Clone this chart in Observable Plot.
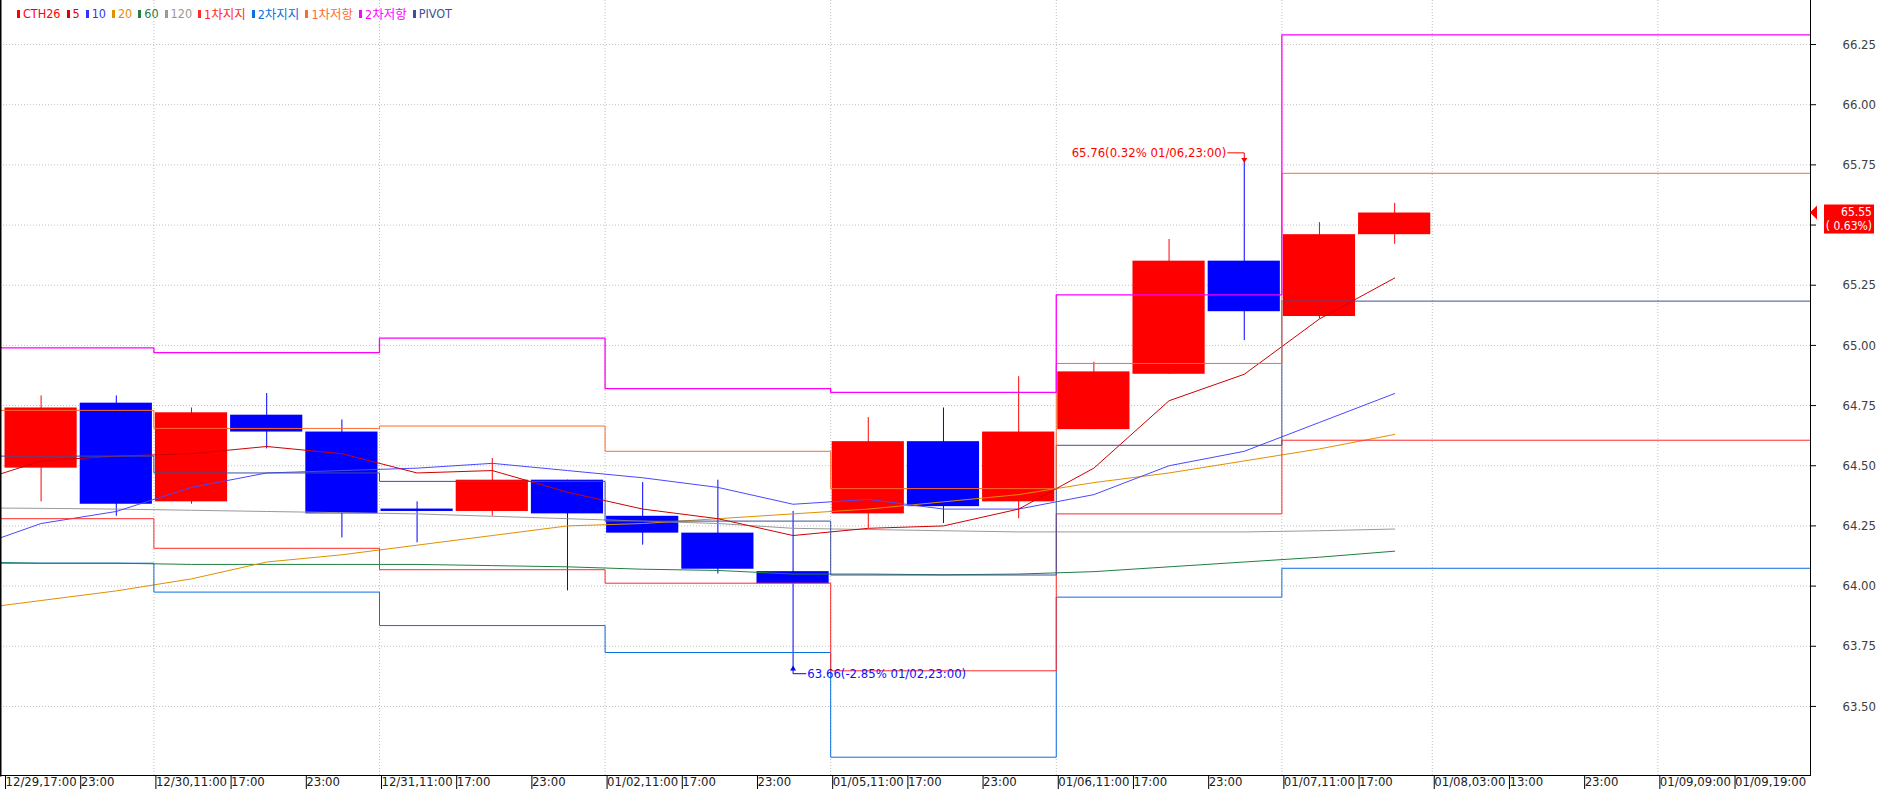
<!DOCTYPE html>
<html>
<head>
<meta charset="utf-8">
<script src="https://cdn.jsdelivr.net/npm/d3@7"></script>
<script src="https://cdn.jsdelivr.net/npm/@observablehq/plot@0.6"></script>
<style>
  body { margin: 0; background: #fff; }
  #wrap { position: relative; width: 1877px; height: 793px; overflow: hidden; }
  #legend { position: absolute; left: 17px; top: 4px; display: flex; align-items: center;
            font: 12.5px "Liberation Sans Narrow", "DejaVu Sans Condensed", "Noto Sans CJK KR", sans-serif; }
  #legend .it { display: flex; align-items: center; margin-right: 6px; }
  #legend .mk { display: inline-block; width: 3px; height: 8px; margin-right: 3px; }
</style>
</head>
<body>
<div id="wrap"><div id="legend"></div></div>
<script>
// ---------- data ----------
const slotLabels = ["12/29,17:00","23:00","12/30,11:00","17:00","23:00","12/31,11:00","17:00","23:00",
  "01/02,11:00","17:00","23:00","01/05,11:00","17:00","23:00","01/06,11:00","17:00","23:00",
  "01/07,11:00","17:00","01/08,03:00","13:00","23:00","01/09,09:00","01/09,19:00"];

const opens  = [64.49,64.76,64.35,64.71,64.64,64.32,64.31,64.44,64.29,64.22,64.06,64.30,64.60,64.35,64.65,64.88,65.35,65.12,65.46];
const highs  = [64.79,64.79,64.74,64.80,64.69,64.35,64.53,64.44,64.43,64.44,64.31,64.70,64.74,64.87,64.93,65.44,65.76,65.51,65.59];
const lows   = [64.35,64.29,64.34,64.57,64.20,64.18,64.29,63.98,64.17,64.05,63.66,64.24,64.26,64.28,64.65,64.88,65.02,65.11,65.42];
const closes = [64.74,64.34,64.72,64.64,64.30,64.31,64.44,64.30,64.22,64.07,64.01,64.60,64.33,64.64,64.89,65.35,65.14,65.46,65.55];

// moving averages (first value belongs to the bar before the visible window)
const maIdx = [-1,0,1,2,3,4,5,6,7,8,9,10,11,12,13,14,15,16,17,18];
const ma5   = [64.42,64.52,64.54,64.55,64.58,64.55,64.47,64.48,64.39,64.32,64.28,64.21,64.24,64.25,64.32,64.49,64.77,64.88,65.11,65.28];
const ma10  = [64.15,64.26,64.31,64.41,64.47,64.48,64.49,64.51,64.48,64.45,64.41,64.34,64.36,64.32,64.32,64.38,64.50,64.56,64.68,64.80];
const ma20  = [63.90,63.94,63.98,64.03,64.10,64.13,64.17,64.21,64.25,64.26,64.28,64.30,64.32,64.35,64.38,64.43,64.47,64.52,64.57,64.63];
const ma60  = [64.10,64.095,64.095,64.09,64.09,64.09,64.09,64.085,64.08,64.07,64.065,64.05,64.05,64.047,64.05,64.06,64.08,64.10,64.12,64.145];
const ma120 = [64.325,64.323,64.32,64.315,64.31,64.305,64.30,64.29,64.28,64.27,64.26,64.24,64.235,64.23,64.225,64.225,64.225,64.225,64.23,64.237];

// daily pivot levels (step at first slot of each day)
const dayStart = [-1,2,5,8,11,14,17];
const r2    = [64.99,64.97,65.03,64.82,64.805,65.21,66.29];
const r1    = [64.73,64.655,64.665,64.56,64.405,64.925,65.715];
const pivot = [64.54,64.47,64.435,64.27,64.046,64.585,65.184];
const s1    = [64.28,64.157,64.068,64.012,63.648,64.30,64.606];
const s2    = [64.095,63.975,63.836,63.724,63.289,63.954,64.074];

const gridSlots = [2,5,8,11,14,17,19,22];
const yTicks = [63.5,63.75,64.0,64.25,64.5,64.75,65.0,65.25,65.5,65.75,66.0,66.25];

const lastPrice = 65.55, lastPct = "( 0.63%)";
const highNote = {i: 16, v: 65.76, text: "65.76(0.32% 01/06,23:00)"};
const lowNote  = {i: 10, v: 63.66, text: "63.66(-2.85% 01/02,23:00)"};

const legendItems = [
  ["CTH26","#ff0000"],["5","#e00000"],["10","#3333ff"],["20","#e09000"],["60","#1f8040"],["120","#999999"],
  ["1차지지","#ff2a2a"],["2차지지","#0a6fe0"],["1차저항","#ff6a30"],["2차저항","#ff00ff"],["PIVOT","#3d4f9a"]
];

// ---------- build ----------
const C = {up:"#ff0000", down:"#0000ff", ma5:"#d00000", ma10:"#4848ff", ma20:"#e09000", ma60:"#1f8040", ma120:"#999999",
           r2:"#ff00ff", r1:"#ff6a30", p:"#3d4f9a", s1:"#ff2a2a", s2:"#0a6fe0"};
const candles = opens.map((o,i) => ({i, o, h: highs[i], l: lows[i], c: closes[i], up: closes[i] >= o}));
const maRows = vals => vals.map((v,k) => ({x: maIdx[k], v}));
const stepRows = vals => [...vals.map((v,k) => ({x: dayStart[k] - 0.5, v})), {x: 24.5, v: vals[vals.length-1]}];
const font = '"Liberation Sans Narrow","DejaVu Sans Condensed",sans-serif';
// tick labels hidden behind the current-price tag (as in the reference)
const labelTicks = yTicks.filter(d => Math.abs(d - lastPrice) > 0.08);

const line = (vals, color, opts={}) => Plot.line(vals, {x:"x", y:"v", stroke: color, strokeWidth: 1, clip: true, ...opts});

const chart = Plot.plot({
  width: 1877, height: 793,
  marginLeft: 0, marginRight: 67, marginTop: 0, marginBottom: 18,
  x: {domain: [-0.54, 23.53], axis: null},
  y: {domain: [63.213, 66.433], axis: null},
  style: {fontFamily: font, fontSize: "13px", background: "transparent"},
  marks: [
    Plot.ruleY(yTicks, {stroke: "#c0c0c0", strokeDasharray: "1,2"}),
    Plot.ruleX(gridSlots, {x: d => d - 0.5, stroke: "#c0c0c0", strokeDasharray: "1,2"}),
    Plot.ruleX(candles, {x: "i", y1: "l", y2: "h", stroke: d => d.up ? C.up : C.down, strokeWidth: 1}),
    Plot.rect(candles, {x1: d => d.i - 0.48, x2: d => d.i + 0.48, y1: "o", y2: "c", fill: d => d.up ? C.up : C.down}),
    line(maRows(ma120), C.ma120),
    line(maRows(ma60), C.ma60),
    line(maRows(ma20), C.ma20),
    line(maRows(ma10), C.ma10),
    line(maRows(ma5), C.ma5),
    line(stepRows(s2), C.s2, {curve: "step-after"}),
    line(stepRows(s1), C.s1, {curve: "step-after"}),
    line(stepRows(pivot), C.p, {curve: "step-after"}),
    line(stepRows(r1), C.r1, {curve: "step-after"}),
    line(stepRows(r2), C.r2, {curve: "step-after", strokeWidth: 1.3}),
    // high annotation
    Plot.line([{x: highNote.i - 0.22, v: highNote.v + 0.04}, {x: highNote.i, v: highNote.v + 0.04}, {x: highNote.i, v: highNote.v + 0.012}],
      {x: "x", y: "v", stroke: "#ff0000", strokeWidth: 1}),
    Plot.dot([highNote], {x: "i", y: d => d.v + 0.012, symbol: "triangle", rotate: 180, r: 2.2, fill: "#ff0000", stroke: "none"}),
    Plot.text([highNote], {x: d => d.i - 0.24, y: d => d.v + 0.04, text: "text", textAnchor: "end", fill: "#ff0000", fontSize: 13}),
    // low annotation
    Plot.line([{x: lowNote.i, v: lowNote.v - 0.005}, {x: lowNote.i, v: lowNote.v - 0.024}, {x: lowNote.i + 0.17, v: lowNote.v - 0.024}],
      {x: "x", y: "v", stroke: "#0000ff", strokeWidth: 1}),
    Plot.dot([lowNote], {x: "i", y: d => d.v - 0.004, symbol: "triangle", r: 2.2, fill: "#0000ff", stroke: "none"}),
    Plot.text([lowNote], {x: d => d.i + 0.19, y: d => d.v - 0.024, text: "text", textAnchor: "start", fill: "#1010ff", fontSize: 13}),
    // axes
    Plot.axisY({anchor: "right", ticks: yTicks, text: null, tickSize: 5, stroke: "#000"}),
    Plot.axisY({anchor: "right", ticks: labelTicks, tickFormat: d => d.toFixed(2), tickSize: 0, tickPadding: 32,
                fill: "#404040", fontSize: 13}),
    Plot.axisX({anchor: "bottom", ticks: slotLabels.map((_, i) => i - 0.5), tickFormat: d => slotLabels[Math.round(d + 0.5)],
                tickSize: 14, tickPadding: -13, textAnchor: "start", dx: 2, fill: "#222", stroke: "#000", fontSize: 13}),
    Plot.frame({anchor: "bottom", stroke: "#000"}),
    Plot.frame({anchor: "right", stroke: "#000"}),
    Plot.frame({anchor: "left", stroke: "#000", strokeWidth: 2})
  ]
});
document.getElementById("wrap").prepend(chart);

// current price tag on the right axis
const ys = chart.scale("y");
const yAt = ys.apply ? ys.apply : d3.scaleLinear(ys.domain, ys.range);
const py = yAt(lastPrice);
const svg = d3.select(chart);
const xr = chart.scale("x").range[1];
svg.append("path").attr("d", `M${xr},${py} L${xr + 7},${py - 7} L${xr + 7},${py + 7} Z`).attr("fill", "#ff0000");
svg.append("rect").attr("x", xr + 14).attr("y", py - 8).attr("width", 50).attr("height", 29).attr("fill", "#ff0000");
svg.append("text").attr("x", xr + 62).attr("y", py + 3).attr("text-anchor", "end").attr("fill", "#fff")
   .attr("font-family", font).attr("font-size", 12).text(lastPrice.toFixed(2));
svg.append("text").attr("x", xr + 62).attr("y", py + 17).attr("text-anchor", "end").attr("fill", "#fff")
   .attr("font-family", font).attr("font-size", 12).attr("xml:space", "preserve").style("white-space", "pre").text(lastPct);

// legend overlay
const lg = d3.select("#legend");
legendItems.forEach(([t, c]) => {
  const it = lg.append("span").attr("class", "it");
  it.append("span").attr("class", "mk").style("background", c);
  it.append("span").style("color", c).text(t);
});
chart.style.position = "absolute";
chart.style.left = "0"; chart.style.top = "0";
</script>
</body>
</html>
